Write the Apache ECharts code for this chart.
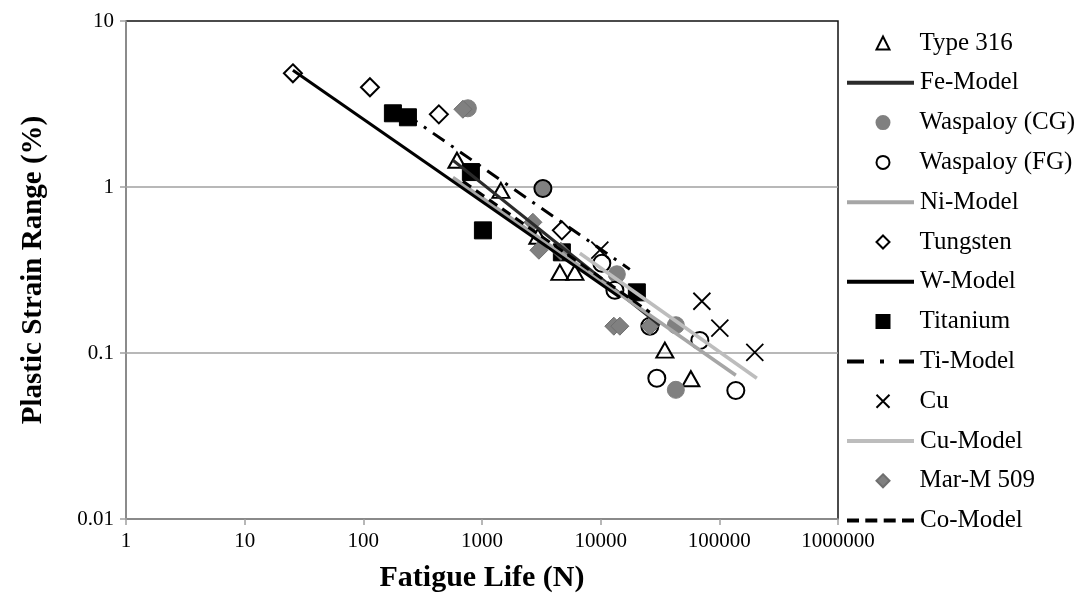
<!DOCTYPE html>
<html>
<head>
<meta charset="utf-8">
<script src="https://cdn.jsdelivr.net/npm/echarts@6/dist/echarts.min.js"></script>
<style>
  html, body { margin: 0; padding: 0; background: #fff; }
  #chart { width: 1084px; height: 603px; }
</style>
</head>
<body>
<div id="chart"></div>
<script>
// Fatigue life vs plastic strain range, [N, strain %]
const type316 = [[615, 1.45], [1443, 0.955], [2958, 0.505], [4533, 0.306], [6063, 0.306], [34750, 0.104], [57550, 0.07]];
const feModel = [[569, 1.45], [31550, 0.147]];
const waspaloyCG = [[760, 2.98], [3260, 0.98], [13680, 0.298], [43000, 0.147], [43000, 0.06]];
const waspaloyFG = [[3260, 0.98], [10230, 0.347], [13180, 0.239], [25960, 0.145], [68500, 0.119], [29730, 0.0705], [137700, 0.0594]];
const niModel = [[569, 1.14], [137700, 0.0734]];
const tungsten = [[25.5, 4.84], [113.7, 3.99], [433, 2.74], [4710, 0.548]];
const wModel = [[25.5, 5.05], [14520, 0.2165]];
const titanium = [[177.5, 2.78], [237.6, 2.63], [806, 1.23], [1018, 0.548], [4710, 0.404], [20180, 0.232]];
const tiModel = [[228, 2.74], [17600, 0.319]];
const cu = [[9840, 0.416], [71270, 0.205], [101000, 0.141], [199000, 0.101]];
const cuModel = [[6680, 0.399], [207000, 0.0704]];
const marM509 = [[690, 2.94], [2685, 0.613], [3016, 0.416], [4620, 0.41], [12910, 0.145], [14510, 0.145], [25960, 0.145]];
const coModel = [[690, 1.082], [25960, 0.176]];

const xTickLabels = ['1', '10', '100', '1000', '10000', '100000', '1000000'];
const yTickLabels = ['0.01', '0.1', '1', '10'];
const legendNames = ['Type 316', 'Fe-Model', 'Waspaloy (CG)', 'Waspaloy (FG)', 'Ni-Model', 'Tungsten',
                     'W-Model', 'Titanium', 'Ti-Model', 'Cu', 'Cu-Model', 'Mar-M 509', 'Co-Model'];

const serif = 'Liberation Serif';
const black = '#000000';
const darkLine = '#2b2b2b';
const niGray = '#a6a6a6';
const cuGray = '#bdbdbd';
const grayMark = '#808080';
const crossPath = 'path://M0,0L10,10M10,0L0,10';

// legend line swatches (67 x 4)
const solidIcon = 'path://M0,0H67V4H0Z';
const dashDotIcon = 'path://M0,0H17V4H0Z M33,0H37V4H33Z M52,0H67V4H52Z';
const dashIcon = 'path://M0,0H12V4H0Z M18.3,0H30.3V4H18.3Z M36.7,0H48.7V4H36.7Z M55,0H67V4H55Z';
const lineIcons = { 'Fe-Model': solidIcon, 'Ni-Model': solidIcon, 'W-Model': solidIcon,
                    'Ti-Model': dashDotIcon, 'Cu-Model': solidIcon, 'Co-Model': dashIcon };

function tickText(v, labels) {
  const s = String(Number(v.toPrecision(6)));
  return labels.indexOf(s) >= 0 ? s : '';
}

function scatter(name, data, symbol, size, style) {
  return { name, type: 'scatter', data, symbol, symbolSize: size,
           itemStyle: Object.assign({ opacity: 1 }, style), emphasis: { disabled: true } };
}
function model(name, data, color, width, type) {
  return {
    name, type: 'line', data, symbol: 'none', showSymbol: false,
    lineStyle: { color, width, type: type || 'solid', cap: 'butt' },
    itemStyle: { color, borderWidth: 0 }, emphasis: { disabled: true }
  };
}

// one legend block per entry, stacked down the right side
const legendStep = 39.8;
const legends = legendNames.map((name, i) => {
  const isLine = !!lineIcons[name];
  const center = 43 + i * legendStep;
  const base = {
    orient: 'vertical', top: center - 12.5, padding: 0,
    selectedMode: false,
    textStyle: { fontFamily: serif, fontSize: 25, color: black, lineHeight: 25 }
  };
  if (isLine) {
    return Object.assign(base, {
      left: 847, itemWidth: 67, itemHeight: 4,
      textStyle: Object.assign(base.textStyle, { padding: [0, 0, 0, 1] }),
      data: [{ name, icon: lineIcons[name], itemStyle: { borderWidth: 0 } }]
    });
  }
  return Object.assign(base, {
    left: 875.5, itemWidth: 13, itemHeight: 13,
    textStyle: Object.assign(base.textStyle, { padding: [0, 0, 0, 25] }),
    data: [name]
  });
});

const chart = echarts.init(document.getElementById('chart'), null, { renderer: 'canvas' });
chart.setOption({
  animation: false,
  backgroundColor: '#ffffff',
  grid: {
    left: 126, right: 246, top: 21, bottom: 84,
    show: true, borderColor: '#111', borderWidth: 1.5, backgroundColor: 'transparent'
  },
  xAxis: {
    type: 'log', logBase: 10, min: 1, max: 1000000,
    name: 'Fatigue Life (N)', nameLocation: 'middle', nameGap: 44,
    nameTextStyle: { fontFamily: serif, fontSize: 30, fontWeight: 'bold', color: black },
    axisLine: { show: true, lineStyle: { color: '#a0a0a0', width: 1.5 } },
    axisTick: { show: true, inside: false, length: 6, lineStyle: { color: '#a0a0a0', width: 1.5 } },
    axisLabel: { fontFamily: serif, fontSize: 21, color: black, margin: 12,
      formatter: v => tickText(v, xTickLabels) },
    splitLine: { show: false },
    minorTick: { show: false }
  },
  yAxis: {
    type: 'log', logBase: 10, min: 0.01, max: 10,
    name: 'Plastic Strain Range (%)', nameLocation: 'middle', nameGap: 78, nameRotate: 90,
    nameTextStyle: { fontFamily: serif, fontSize: 29, fontWeight: 'bold', color: black },
    axisLine: { show: true, lineStyle: { color: '#a0a0a0', width: 1.5 } },
    axisTick: { show: true, inside: false, length: 6, lineStyle: { color: '#a0a0a0', width: 1.5 } },
    axisLabel: { fontFamily: serif, fontSize: 21, color: black, margin: 12,
      formatter: v => tickText(v, yTickLabels) },
    splitLine: { show: true, showMinLine: false, showMaxLine: false,
      lineStyle: { color: '#a0a0a0', width: 1.5 } }
  },
  legend: legends,
  series: [
    scatter('Type 316', type316, 'triangle', [17, 15], { color: 'transparent', borderColor: black, borderWidth: 2 }),
    model('Fe-Model', feModel, darkLine, 3),
    scatter('Waspaloy (CG)', waspaloyCG, 'circle', 17, { color: grayMark, borderColor: grayMark, borderWidth: 1 }),
    scatter('Waspaloy (FG)', waspaloyFG, 'circle', 17, { color: 'transparent', borderColor: black, borderWidth: 2 }),
    model('Ni-Model', niModel, niGray, 3.5),
    scatter('Tungsten', tungsten, 'diamond', 18, { color: 'transparent', borderColor: black, borderWidth: 2 }),
    model('W-Model', wModel, black, 3),
    scatter('Titanium', titanium, 'rect', 17, { color: black, borderColor: black, borderWidth: 1 }),
    model('Ti-Model', tiModel, black, 3, [14, 8, 3, 8]),
    scatter('Cu', cu, crossPath, 17, { color: 'transparent', borderColor: black, borderWidth: 1.8 }),
    model('Cu-Model', cuModel, cuGray, 3.5),
    scatter('Mar-M 509', marM509, 'diamond', 18, { color: grayMark, borderColor: '#6f6f6f', borderWidth: 1 }),
    model('Co-Model', coModel, black, 3, [10, 6])
  ]
});
</script>
</body>
</html>
